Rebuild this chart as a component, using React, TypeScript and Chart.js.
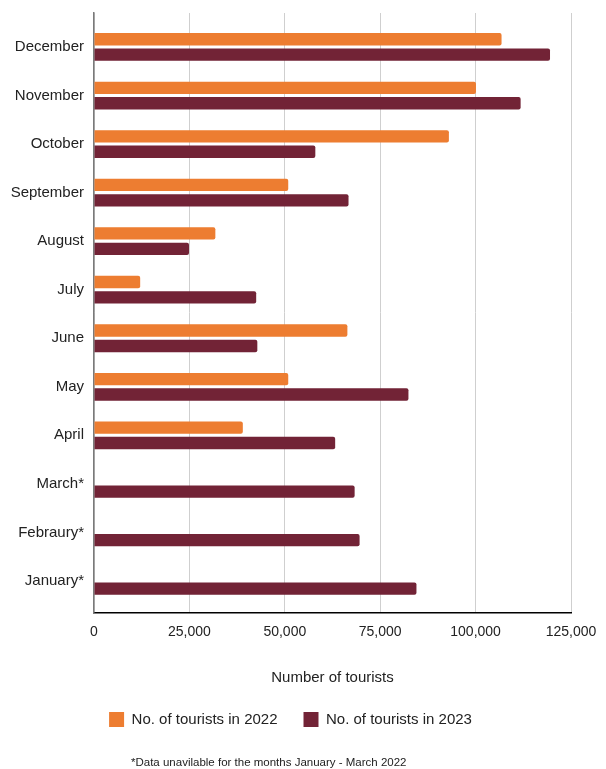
import React, { useEffect, useRef } from 'react';
import { Chart, registerables } from 'chart.js';

Chart.register(...registerables);

const months = ['January*', 'Febraury*', 'March*', 'April', 'May', 'June', 'July', 'August', 'September', 'October', 'November', 'December'];
const tourists2022: (number | null)[] = [null, null, null, 39000, 50900, 66400, 12100, 31800, 50900, 93000, 100100, 106800];
const tourists2023: number[] = [84500, 69600, 68300, 63200, 82400, 42800, 42500, 24900, 66700, 58000, 111800, 119500];
const xTicks = [0, 25000, 50000, 75000, 100000, 125000];
const seriesNames = ['No. of tourists in 2022', 'No. of tourists in 2023'];
const seriesColors = ['#ED7D31', '#722336'];
const axisTitle = 'Number of tourists';
const footnote = '*Data unavilable for the months January - March 2022';

const FONT = '"Liberation Sans", Arial, Helvetica, sans-serif';

function toPoints(values: (number | null)[]) {
  return values
    .map((v, i) => ({ x: v, y: i }))
    .filter((p) => p.x !== null);
}

const footnotePlugin = {
  id: 'footnote',
  afterLayout(chart: any) {
    // nudge the centred legend slightly right, as in the reference
    if (chart.legend) {
      chart.legend.left += 5;
      chart.legend.right += 5;
    }
  },
  afterDraw(chart: any) {
    const ctx = chart.ctx;
    ctx.save();
    ctx.font = `11.5px ${FONT}`;
    ctx.fillStyle = '#222';
    ctx.textAlign = 'left';
    ctx.textBaseline = 'middle';
    ctx.fillText(footnote, 131, chart.height - 6);
    ctx.restore();
  },
};

export default function App() {
  const canvasRef = useRef<HTMLCanvasElement | null>(null);

  useEffect(() => {
    if (!canvasRef.current) return;
    const chart = new Chart(canvasRef.current, {
      type: 'bar',
      data: {
        datasets: [
          {
            label: seriesNames[0],
            data: toPoints(tourists2022) as any,
            backgroundColor: seriesColors[0],
            borderWidth: 0,
            borderRadius: 2,
            borderSkipped: 'start',
            categoryPercentage: 0.636,
            barPercentage: 0.8,
          },
          {
            label: seriesNames[1],
            data: toPoints(tourists2023) as any,
            backgroundColor: seriesColors[1],
            borderWidth: 0,
            borderRadius: 2,
            borderSkipped: 'start',
            categoryPercentage: 0.636,
            barPercentage: 0.8,
          },
        ],
      },
      options: {
        indexAxis: 'y',
        animation: false,
        responsive: true,
        maintainAspectRatio: false,
        devicePixelRatio: 1,
        layout: { padding: { top: 13, right: 35, bottom: 32, left: 0 } },
        scales: {
          x: {
            type: 'linear',
            position: 'bottom',
            min: xTicks[0],
            max: xTicks[xTicks.length - 1],
            afterBuildTicks: (scale: any) => {
              scale.ticks = xTicks.map((v) => ({ value: v }));
            },
            afterFit: (scale: any) => {
              scale.height = 73;
              scale.paddingLeft = 0;
              scale.paddingRight = 0;
            },
            ticks: {
              padding: 11,
              color: '#222',
              font: { family: FONT, size: 14 },
              callback: (v: any) => Number(v).toLocaleString('en-US'),
            },
            grid: { color: '#cfcfcf', lineWidth: 1, drawTicks: false },
            border: { display: true, color: '#000', width: 1.5 },
            title: {
              display: true,
              text: axisTitle,
              color: '#222',
              font: { family: FONT, size: 15 },
              padding: { top: 0, bottom: -1 },
            },
          },
          y: {
            type: 'linear',
            offset: false,
            min: -0.66,
            max: months.length - 1 + 0.7,
            afterBuildTicks: (scale: any) => {
              scale.ticks = months.map((_, i) => ({ value: i }));
            },
            afterFit: (scale: any) => {
              scale.width = 94;
              scale.paddingTop = 0;
              scale.paddingBottom = 0;
            },
            ticks: {
              stepSize: 1,
              includeBounds: false,
              autoSkip: false,
              padding: 10,
              color: '#222',
              font: { family: FONT, size: 15 },
              callback: (v: any) => months[v] ?? '',
            },
            grid: { display: false, drawTicks: false },
            border: { display: true, color: '#7a7a7a', width: 1.5 },
          },
        },
        plugins: {
          legend: {
            display: true,
            position: 'bottom',
            labels: {
              boxWidth: 15,
              boxHeight: 15,
              padding: 26,
              color: '#222',
              font: { family: FONT, size: 15 },
            },
          },
          tooltip: { enabled: false },
        },
      },
      plugins: [footnotePlugin],
    });
    return () => chart.destroy();
  }, []);

  return (
    <div style={{ position: 'absolute', left: 0, top: 0, width: 606, height: 769, background: '#fff' }}>
      <canvas ref={canvasRef} />
    </div>
  );
}
